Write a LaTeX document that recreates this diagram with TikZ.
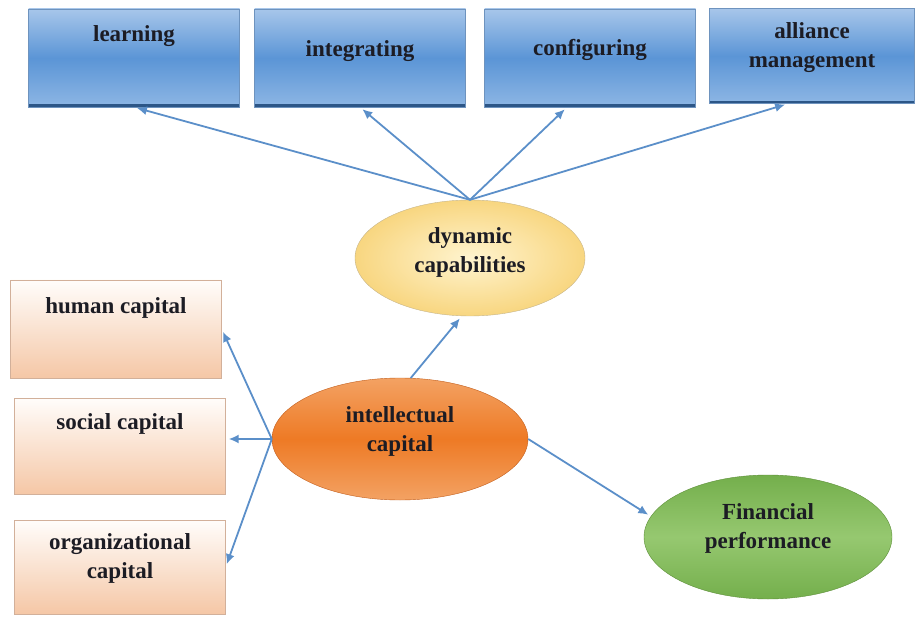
\documentclass[tikz,border=0pt]{standalone}
\usepackage{fontspec}
\setmainfont{Liberation Serif}
\usetikzlibrary{arrows.meta,shapes.geometric,calc}

\definecolor{linkblue}{HTML}{5B8FC9}
\definecolor{boxtop}{HTML}{A7C6EA}
\definecolor{boxmid}{HTML}{5B95D6}
\definecolor{boxbot}{HTML}{8DB6E4}
\definecolor{boxline}{HTML}{6E93BE}
\definecolor{boxedge}{HTML}{2C5687}
\definecolor{peachtop}{HTML}{FFFDFB}
\definecolor{peachbot}{HTML}{F5C7A6}
\definecolor{peachline}{HTML}{D2B09A}
\definecolor{yellowin}{HTML}{FFF4CF}
\definecolor{yellowout}{HTML}{F8D680}
\definecolor{orangemid}{HTML}{EE7A25}
\definecolor{orangeend}{HTML}{F3A263}
\definecolor{orangeline}{HTML}{C25E1C}
\definecolor{greenmid}{HTML}{96C870}
\definecolor{greenend}{HTML}{74AF4C}
\definecolor{greenline}{HTML}{5E8F3A}
\definecolor{textdark}{HTML}{1C1C24}

\begin{document}
\begin{tikzpicture}[x=1pt,y=-1pt,
  lbl/.style={font=\bfseries\fontsize{23}{29}\selectfont,align=center,text=textdark},
  bluebox/.style={draw=boxline,thin,minimum width=211pt,minimum height=98pt,
    top color=boxtop,bottom color=boxbot,middle color=boxmid,
    path picture={\draw[boxedge,line width=5pt] (path picture bounding box.south west) -- (path picture bounding box.south east);}},
  peachbox/.style={draw=peachline,thin,minimum width=211pt,minimum height=96pt,
    top color=peachtop,bottom color=peachbot},
  link/.style={linkblue,line width=1.8pt,-{Latex[length=10pt,width=9pt]},shorten >=3pt}]

\useasboundingbox (0,0) rectangle (915,617);

%top row
\node[bluebox,label={[lbl,anchor=north,yshift=-13pt]north:learning}] (learn) at (134,58) {};
\node[bluebox,label={[lbl,anchor=north,yshift=-28pt]north:integrating}] (integ) at (360,58) {};
\node[bluebox,label={[lbl,anchor=north,yshift=-27pt]north:configuring}] (config) at (590,58) {};
\node[bluebox,minimum width=205pt,minimum height=95pt,
  label={[lbl,anchor=north,yshift=-11pt]north:alliance\\management}] (alli) at (812,56) {};

%left column
\node[peachbox,minimum height=98pt,label={[lbl,anchor=north,yshift=-14pt]north:human capital}] (human) at (116,329) {};
\node[peachbox,label={[lbl,anchor=north,yshift=-12pt]north:social capital}] (social) at (120,446) {};
\node[peachbox,minimum height=94pt,label={[lbl,anchor=north,yshift=-10pt]north:organizational\\capital}] (organ) at (120,567) {};

%ellipses
\node[ellipse,draw=yellowout!70!black!70,inner color=yellowin,outer color=yellowout,
  minimum width=230pt,minimum height=116pt,
  label={[lbl,yshift=6pt]center:dynamic\\capabilities}] (dyn) at (470,258) {};
\node[ellipse,draw=orangeline,top color=orangeend,bottom color=orangeend,middle color=orangemid,
  minimum width=256pt,minimum height=122pt,
  label={[lbl,yshift=8pt]center:intellectual\\capital}] (intel) at (400,439) {};
\node[ellipse,draw=greenline,top color=greenend,bottom color=greenend,middle color=greenmid,
  minimum width=248pt,minimum height=124pt,
  label={[lbl,yshift=9pt]center:Financial\\performance}] (fin) at (768,537) {};

%arrows
\draw[link] (dyn.north) -- (learn.south);
\draw[link] (dyn.north) -- (integ.south);
\draw[link] (dyn.north) -- ([xshift=-23pt]config.south);
\draw[link] (dyn.north) -- ([xshift=-24pt]alli.south);

\draw[link] (intel.west) -- (human.east);
\draw[link] (intel.west) -- (intel.west -| social.east);
\draw[link] (intel.west) -- (organ.east);
\draw[link] (intel.80) -- (dyn.262);
\draw[link] (intel.east) -- (fin.170);
\end{tikzpicture}
\end{document}
